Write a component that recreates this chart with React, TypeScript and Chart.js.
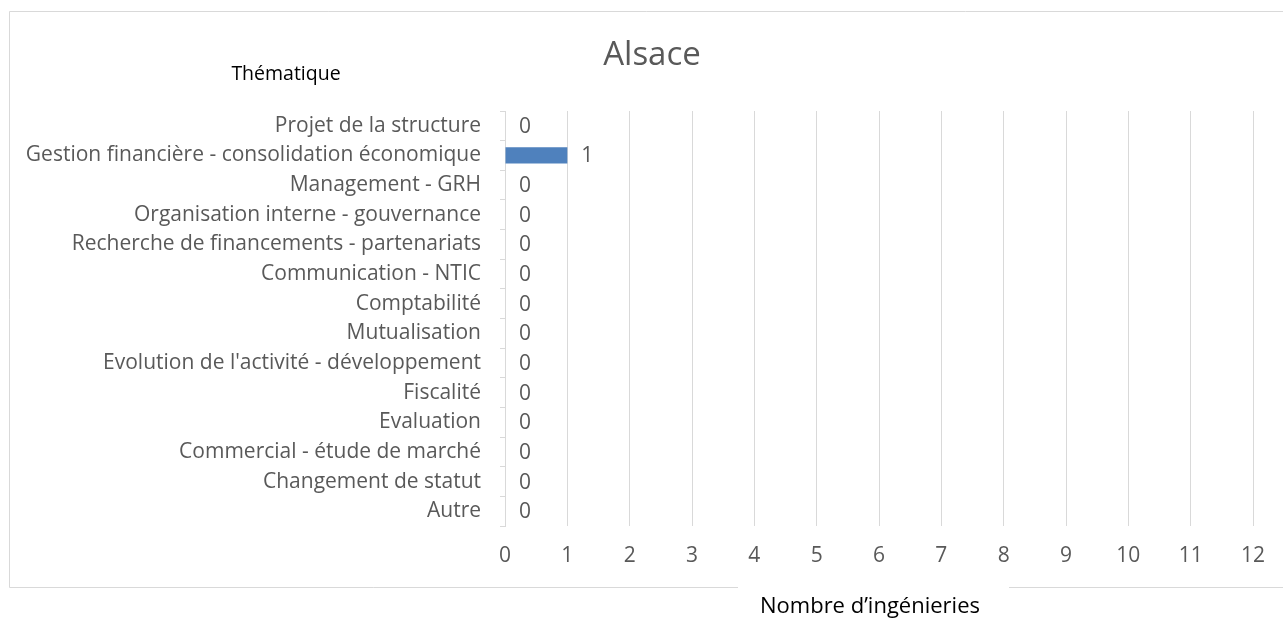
import React, { useEffect, useRef } from "react";
import { Chart, registerables } from "chart.js";

Chart.register(...registerables);

const categories = [
  "Projet de la structure",
  "Gestion financière - consolidation économique",
  "Management - GRH",
  "Organisation interne - gouvernance",
  "Recherche de financements - partenariats",
  "Communication - NTIC",
  "Comptabilité",
  "Mutualisation",
  "Evolution de l'activité - développement",
  "Fiscalité",
  "Evaluation",
  "Commercial - étude de marché",
  "Changement de statut",
  "Autre",
];
const values = [0, 1, 0, 0, 0, 0, 0, 0, 0, 0, 0, 0, 0, 0];
const xTicks = [0, 1, 2, 3, 4, 5, 6, 7, 8, 9, 10, 11, 12];
const chartTitle = "Alsace";
const yAxisTitle = "Thématique";
const xAxisTitle = "Nombre d’ingénieries";

const FONT = "'Open Sans', sans-serif";
const GRAY = "#595959";
const GRID = "#d9d9d9";

const decorPlugin = {
  id: "decor",
  beforeDraw(chart: any) {
    const ctx = chart.ctx;
    ctx.save();
    ctx.fillStyle = "#ffffff";
    ctx.fillRect(0, 0, chart.width, chart.height);
    ctx.strokeStyle = GRID;
    ctx.lineWidth = 1;
    ctx.beginPath();
    ctx.moveTo(1284, 11.5);
    ctx.lineTo(9.5, 11.5);
    ctx.lineTo(9.5, 587.5);
    ctx.lineTo(738, 587.5);
    ctx.moveTo(1009, 587.5);
    ctx.lineTo(1284, 587.5);
    ctx.stroke();
    ctx.restore();
  },
  afterDraw(chart: any) {
    const ctx = chart.ctx;
    ctx.save();
    ctx.textBaseline = "middle";
    ctx.textAlign = "center";
    ctx.fillStyle = GRAY;
    ctx.font = `33px ${FONT}`;
    ctx.fillText(chartTitle, 652, 56);
    ctx.fillStyle = "#000000";
    ctx.font = `19.5px ${FONT}`;
    ctx.fillText(yAxisTitle, 286, 74);
    ctx.font = `22px ${FONT}`;
    ctx.fillText(xAxisTitle, 870, 607);
    // data labels
    const meta = chart.getDatasetMeta(0);
    ctx.fillStyle = GRAY;
    ctx.textAlign = "left";
    ctx.font = `21px ${FONT}`;
    meta.data.forEach((bar: any, i: number) => {
      ctx.fillText(String(values[i]), bar.x + 14, bar.y + 1);
    });
    ctx.restore();
  },
};

export default function App() {
  const ref = useRef<HTMLCanvasElement>(null);
  useEffect(() => {
    if (!ref.current) return;
    const chart = new Chart(ref.current, {
      type: "bar",
      data: {
        labels: categories,
        datasets: [
          {
            data: values,
            backgroundColor: "#4f81bd",
            barPercentage: 0.55,
            categoryPercentage: 1,
          },
        ],
      },
      plugins: [decorPlugin],
      options: {
        indexAxis: "y",
        animation: false,
        responsive: false,
        layout: { padding: { top: 111, left: 0, right: 30, bottom: 54 } },
        plugins: {
          legend: { display: false },
          title: { display: false },
          tooltip: { enabled: false },
        },
        scales: {
          x: {
            min: 0,
            max: 12,
            afterFit(scale: any) {
              scale.height = 40;
            },
            afterBuildTicks(scale: any) {
              scale.ticks = xTicks.map((v) => ({ value: v }));
            },
            grid: { color: GRID, drawTicks: false, lineWidth: 1 },
            border: { display: false },
            ticks: {
              color: GRAY,
              font: { family: FONT, size: 21 },
              padding: 17,
            },
          },
          y: {
            afterFit(scale: any) {
              scale.width = 505;
            },
            grid: {
              drawOnChartArea: false,
              drawTicks: true,
              tickLength: 5,
              color: GRID,
              offset: true,
            },
            border: { display: true, color: GRID },
            ticks: {
              color: GRAY,
              font: { family: FONT, size: 21 },
              padding: 19,
              autoSkip: false,
            },
          },
        },
      },
    });
    return () => chart.destroy();
  }, []);
  return (
    <div style={{ position: "fixed", left: 0, top: 0, width: 1283, height: 620 }}>
      <canvas ref={ref} width={1283} height={620} />
    </div>
  );
}
